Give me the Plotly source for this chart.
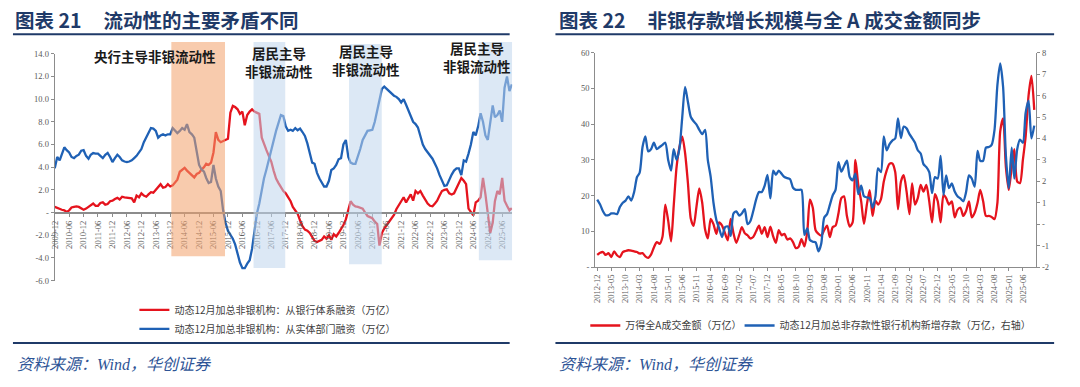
import plotly.graph_objects as go
import pandas as pd

# ---------------- data: left chart (monthly, 2009-12 .. 2025-10) ----------------
left_start = "2009-12-01"
bank_financing = [
    0.5,
    0.4, 0.3, 0.25, 0.2, 0.05, 0.2, 0.45, 0.5, 0.55, 0.5, 0.35, 0.25,
    0.35, 0.5, 0.7, 0.8, 0.6, 0.6, 0.85, 0.9, 0.7, 0.75, 1.0, 1.05,
    1.2, 1.3, 1.15, 1.4, 1.35, 1.3, 1.3, 1.25, 0.9, 1.5, 1.35, 1.7,
    1.5, 1.4, 1.6, 1.8, 1.75, 2.0, 2.3, 2.5, 2.2, 2.25, 2.5, 2.3,
    2.4, 2.7, 2.9, 3.6, 3.8, 3.95, 3.7, 3.5, 3.3, 3.1, 3.4, 3.5,
    3.8, 4.0, 4.3, 4.2, 4.4, 5.3, 7.1, 6.4, 6.2, 6.3, 6.4, 6.5,
    8.8, 9.4, 9.3, 9.1, 8.7, 8.9, 7.7, 8.6, 8.9, 9.1, 8.9, 8.8,
    8.7, 6.6, 6.0, 5.5, 5.0, 4.5, 3.7, 3.0, 2.6, 2.2, 1.9, 1.7,
    1.4, 1.0, 0.5, 0.2, -0.1, -0.7, -1.2, -1.5, -1.6, -1.8, -2.2, -2.5,
    -2.6, -2.5, -2.4, -2.1, -2.3, -2.0, -2.4, -1.9, -2.1, -1.8, -1.5, -1.1,
    -0.6, 0.2, 1.0, 0.7, 0.55, 0.5, 0.4, 0.35, 0.0, -0.3, -0.4, -0.5,
    -0.8, -1.0, -2.9, -1.8, -1.4, -1.1, -0.8, -0.6, -0.2, 0.3, 0.7, 1.0,
    1.35, 0.9, 1.3, 1.6, 1.05, 1.9, 1.7, 1.9, 1.5, 1.1, 0.8, 0.6,
    0.55, 0.8, 1.05, 1.5, 1.9, 2.0, 2.05, 1.7, 1.6, 1.7, 2.2, 2.6,
    3.05, 2.8, 2.5, 0.35, 0.1, -0.25, 0.9, 1.05, 1.35, 3.05, 1.6, 0.0,
    -1.8, -0.9, 1.0, 1.9, 1.6, 3.05, 1.05, 0.6, 0.2, 0.4,
]
real_sector_financing = [
    3.9,
    4.9, 4.6, 5.2, 5.75, 5.5, 5.3, 4.9, 4.8, 5.0, 5.1, 5.45, 5.5,
    5.0, 4.75, 5.1, 5.25, 5.2, 5.2, 5.0, 4.8, 5.1, 5.25, 4.9, 4.45,
    4.8, 5.1, 4.9, 4.6, 4.5, 4.45, 4.5, 4.6, 4.8, 5.0, 5.3, 5.6,
    6.2, 6.6, 7.0, 7.45, 7.4, 7.2, 6.6, 6.8, 6.9, 6.8, 6.9, 6.9,
    7.45, 7.2, 7.0, 7.2, 7.45, 7.3, 7.8, 7.1, 6.9, 6.6, 5.5, 4.2,
    3.8, 3.6, 3.05, 2.6, 2.7, 4.2, 3.0, 2.3, 1.9, 0.2, -0.9, -1.6,
    -1.95, -2.3, -2.8, -3.6, -4.4, -4.9, -4.9, -4.5, -4.2, -3.2, -1.5, -0.1,
    0.8, 2.0, 3.0, 3.8, 4.7, 5.5, 6.4, 7.2, 7.9, 8.6, 8.5, 7.6,
    7.2, 7.3, 7.2, 7.45, 7.25, 7.4, 7.1, 6.75, 6.1, 5.2, 4.4, 4.3,
    3.5, 3.0, 2.7, 2.3, 2.3, 2.8, 3.75, 3.9, 4.2, 4.7, 4.8, 6.0,
    6.4, 4.9, 4.4, 4.3, 4.3, 4.9, 5.6, 6.4, 6.8, 7.2, 7.25, 7.3,
    8.0, 9.0, 9.9, 10.9, 11.1, 10.9, 10.7, 10.5, 10.3, 10.2, 10.0, 9.7,
    10.0, 9.5, 9.0, 8.5, 8.0, 7.8, 7.5, 6.75, 6.0, 5.6, 5.3, 5.0,
    4.75, 4.3, 3.9, 3.3, 2.75, 2.35, 2.4, 2.9, 3.35, 3.7, 3.9, 3.9,
    3.3, 4.6, 4.5, 5.2, 6.0, 7.1, 6.8, 7.6, 8.75, 8.0, 6.8, 6.4,
    8.0, 9.45, 8.4, 8.6, 9.0, 8.0, 11.0, 12.0, 10.7, 11.3,
]
left_yticks = [-6, -4, -2, 0, 2, 4, 6, 8, 10, 12, 14]
left_yticktext = ["-6.0", "-4.0", "-2.0", "-", "2.0", "4.0", "6.0", "8.0", "10.0", "12.0", "14.0"]

# shaded periods (start, end)
pboc_period = ("2013-12-15", "2015-10-25")
household_periods = [("2016-10-20", "2017-11-25"), ("2020-02-10", "2021-03-30"), ("2024-08-10", "2025-10-05")]

# ---------------- data: right chart (monthly, 2012-12 .. 2025-10) ----------------
right_start = "2012-12-01"
a_share_turnover = [
    3.4, 4.0, 4.2, 3.4, 3.9, 2.8, 4.4, 3.3, 2.8, 4.2, 4.5, 4.7,
    4.6, 4.4, 4.2, 3.8, 3.9, 3.0, 2.6, 3.5, 5.5, 7.0, 6.5, 8.5,
    17.5, 13.0, 7.2, 17.0, 28.0, 33.5, 36.5, 32.0, 23.5, 13.5, 11.5, 17.0,
    22.0, 18.0, 10.5, 8.0, 13.5, 12.0, 9.3, 12.5, 11.6, 9.5, 7.5, 13.5,
    9.5, 6.8, 9.0, 11.2, 9.5, 8.9, 8.0, 8.4, 10.0, 11.6, 9.3, 11.2,
    8.4, 11.3, 8.5, 6.8, 10.3, 8.9, 9.3, 7.7, 8.0, 7.0, 5.3, 5.7,
    7.8, 5.8, 10.0, 18.9, 16.6, 10.3, 9.3, 8.8, 10.3, 11.6, 8.4, 11.2,
    11.6, 15.0, 19.3, 19.8, 14.3, 11.3, 12.5, 30.0, 23.0, 18.4, 12.1, 17.5,
    21.5, 14.3, 18.6, 17.5, 19.0, 23.9, 27.0, 28.9, 29.0, 26.6, 16.2, 23.9,
    25.7, 21.1, 14.8, 23.4, 17.5, 19.3, 23.0, 21.1, 23.0, 18.4, 12.5, 20.4,
    18.4, 12.5, 20.2, 19.3, 17.5, 18.4, 13.9, 16.0, 16.6, 14.3, 15.7, 18.4,
    13.9, 15.2, 18.0, 21.6, 18.4, 14.3, 14.3, 14.0, 13.4, 18.0, 38.0, 41.6,
    28.0, 21.6, 28.0, 33.0, 24.0, 23.5, 30.0, 36.6, 48.0, 53.5, 44.0,
]
nonbank_deposits = [
    1.15, 0.92, 0.6, 0.42, 0.42, 0.5, 0.5, 0.47, 0.8, 1.0, 1.1, 1.3,
    1.1, 1.5, 2.2, 2.4, 3.6, 4.1, 3.4, 3.5, 3.8, 3.5, 3.6, 3.7,
    3.8, 3.0, 2.5, 3.5, 3.0, 3.5, 5.0, 6.4, 5.7, 5.0, 4.8, 4.65,
    4.4, 4.2, 4.4, 3.0, 2.2, 1.0, 0.2, -0.2, -0.6, -0.15, -0.1, -0.55,
    0.5, 0.6, 0.4, 0.5, 0.7, 0.0, 0.15, 0.6, 1.15, 1.5, 1.5, 1.8,
    2.3, 1.2, 2.5, 2.3, 2.5, 2.35, 2.2, 2.15, 2.1, 1.7, 1.6, 1.6,
    1.6, -0.5, -0.2, -0.74, -0.82, -0.85, -1.27, -0.9, 0.3, 0.47, 0.9, 1.35,
    1.6, 2.89, 2.45, 2.7, 2.96, 2.2, 2.05, 2.36, 1.4, 1.8, 1.3, 1.25,
    1.22, 0.77, 1.3, 2.6, 2.43, 4.1, 3.45, 3.72, 3.9, 4.0, 4.93, 4.02,
    4.55, 4.47, 4.2, 4.02, 3.8, 3.45, 3.3, 2.8, 2.66, 2.43, 1.45, 2.2,
    2.13, 3.19, 1.37, 2.28, 1.68, 1.9, 1.52, 1.3, 1.2, 1.07, 1.5, 2.28,
    2.13, 1.75, 3.42, 2.96, 2.96, 3.57, 3.6, 3.7, 4.4, 6.5, 7.5, 6.4,
    3.19, 1.68, 3.57, 2.13, 3.5, 3.95, 3.8, 5.2, 5.76, 4.0, 4.6,
]
right_lticks = [0, 10, 20, 30, 40, 50, 60]
right_lticktext = ["-", "10", "20", "30", "40", "50", "60"]
right_rticks = [-2, -1, 0, 1, 2, 3, 4, 5, 6, 7, 8]
right_rticktext = ["-2", "-1", "-", "1", "2", "3", "4", "5", "6", "7", "8"]

# ---------------- text ----------------
NB = "\u00a0"
title_left = "图表 21" + NB * 5 + "流动性的主要矛盾不同"
title_right = "图表 22" + NB * 5 + "非银存款增长规模与全 A 成交金额同步"
source_text = "<i>资料来源：Wind，华创证券</i>"
name_bank = "动态12月加总非银机构：从银行体系融资（万亿）"
name_real = "动态12月加总非银机构：从实体部门融资（万亿）"
name_turnover = "万得全A成交金额（万亿）"
name_deposit = "动态12月加总非存款性银行机构新增存款（万亿，右轴）"
band_labels = [("央行主导非银流动性", 151, 52),
               ("居民主导", 275, 49), ("非银流动性", 275, 68),
               ("居民主导", 363, 47), ("非银流动性", 363, 66),
               ("居民主导", 474, 44), ("非银流动性", 474, 63)]

# ---------------- figure ----------------
W, H = 1080, 387
def fx(p):
    return p / W
def fy(p):
    return 1 - p / H

RED = "#E5131D"
BLUE = "#1F61B5"
AXIS = "#8C8C8C"
NAVY = "#1F3A68"
TICKFONT = dict(family="Liberation Serif, Times New Roman, serif", size=8.5, color="#595959")
CJK = "Noto Sans CJK SC"
LEGFONT = dict(family=CJK, size=10, color="#404040")

left_dates = pd.date_range(left_start, periods=len(bank_financing), freq="MS")
right_dates = pd.date_range(right_start, periods=len(a_share_turnover), freq="MS")

fig = go.Figure()
fig.add_trace(go.Scatter(x=left_dates, y=bank_financing, name=name_bank, mode="lines",
                         line=dict(color=RED, width=2.3), xaxis="x", yaxis="y", legend="legend"))
fig.add_trace(go.Scatter(x=left_dates, y=real_sector_financing, name=name_real, mode="lines",
                         line=dict(color=BLUE, width=2.3), xaxis="x", yaxis="y", legend="legend"))
fig.add_trace(go.Scatter(x=right_dates, y=a_share_turnover, name=name_turnover, mode="lines",
                         line=dict(color=RED, width=2.3, shape="spline", smoothing=0.7),
                         xaxis="x2", yaxis="y2", legend="legend2"))
fig.add_trace(go.Scatter(x=right_dates, y=nonbank_deposits, name=name_deposit, mode="lines",
                         line=dict(color=BLUE, width=2.3, shape="spline", smoothing=0.7),
                         xaxis="x2", yaxis="y3", legend="legend3"))

shapes = []
# header / footer rules
for x0, x1 in [(8, 507), (553, 1054)]:
    for yy in (30, 347):
        shapes.append(dict(type="line", xref="paper", yref="paper", x0=fx(x0), x1=fx(x1),
                           y0=fy(yy), y1=fy(yy), line=dict(color=NAVY, width=2)))
# shaded periods
shapes.append(dict(type="rect", xref="x", yref="paper", x0=pboc_period[0], x1=pboc_period[1],
                   y0=fy(258), y1=fy(38), fillcolor="rgba(242,160,106,0.55)", line=dict(width=0),
                   layer="above"))
for (a, b), bottom, top in zip(household_periods, (270, 266, 262), (38, 40, 38)):
    shapes.append(dict(type="rect", xref="x", yref="paper", x0=a, x1=b,
                       y0=fy(bottom), y1=fy(top), fillcolor="rgba(191,213,237,0.55)",
                       line=dict(width=0), layer="above"))

annotations = []
annotations.append(dict(text=title_left, x=fx(8), y=fy(15), xref="paper", yref="paper",
                        xanchor="left", yanchor="middle", showarrow=False,
                        font=dict(family=CJK, size=19.5, color=NAVY, weight="bold")))
annotations.append(dict(text=title_right, x=fx(555), y=fy(15), xref="paper", yref="paper",
                        xanchor="left", yanchor="middle", showarrow=False,
                        font=dict(family=CJK, size=19.5, color=NAVY, weight="bold")))
for xx in (10, 555):
    annotations.append(dict(text=source_text, x=fx(xx), y=fy(369), xref="paper", yref="paper",
                            xanchor="left", yanchor="middle", showarrow=False,
                            font=dict(family="Liberation Serif, " + CJK, size=16, color="#2E5496")))
for txt, xx, yy in band_labels:
    annotations.append(dict(text=txt, x=fx(xx), y=fy(yy), xref="paper", yref="paper",
                            xanchor="center", yanchor="middle", showarrow=False, borderpad=0,
                            font=dict(family=CJK, size=13.5, color="#1A1A1A", weight="bold")))

axis_common = dict(showgrid=False, zeroline=False, showline=True, linecolor=AXIS, linewidth=1.2,
                   ticks="outside", ticklen=3, tickcolor=AXIS, tickfont=TICKFONT)

fig.update_layout(
    width=W, height=H, margin=dict(l=0, r=0, t=0, b=0),
    paper_bgcolor="white", plot_bgcolor="rgba(0,0,0,0)",
    shapes=shapes, annotations=annotations,
    xaxis=dict(domain=[fx(50), fx(509.5)], anchor="free", position=fy(214), type="date",
               range=["2009-12-01", "2025-10-05"], tick0="2009-12-01", dtick="M6",
               tickformat="%Y-%m", tickangle=-90, **{**axis_common, "linewidth": 1.6}),
    yaxis=dict(domain=[fy(283), fy(50)], range=[-6, 14], anchor="x",
               tickvals=left_yticks, ticktext=left_yticktext, **axis_common),
    xaxis2=dict(domain=[fx(593), fx(1036)], anchor="y2", type="date",
                range=["2012-11-10", "2025-10-22"], tick0="2012-12-01", dtick="M5",
                tickformat="%Y-%m", tickangle=-90, **axis_common),
    yaxis2=dict(domain=[fy(269), fy(49)], range=[0, 60], anchor="x2",
                tickvals=right_lticks, ticktext=right_lticktext, **axis_common),
    yaxis3=dict(overlaying="y2", side="right", range=[-2, 8], anchor="x2",
                tickvals=right_rticks, ticktext=right_rticktext, **axis_common),
    legend=dict(x=fx(130), y=fy(298), xanchor="left", yanchor="top", orientation="v",
                font=LEGFONT, bgcolor="rgba(0,0,0,0)", tracegroupgap=0),
    legend2=dict(x=fx(583), y=fy(329), xanchor="left", yanchor="middle", orientation="h",
                 font=LEGFONT, bgcolor="rgba(0,0,0,0)"),
    legend3=dict(x=fx(738), y=fy(329), xanchor="left", yanchor="middle", orientation="h",
                 font=LEGFONT, bgcolor="rgba(0,0,0,0)"),
)

fig.write_html("out.html", config={"displayModeBar": False},
               post_script="document.body.style.margin='0';document.body.style.overflow='hidden';")
